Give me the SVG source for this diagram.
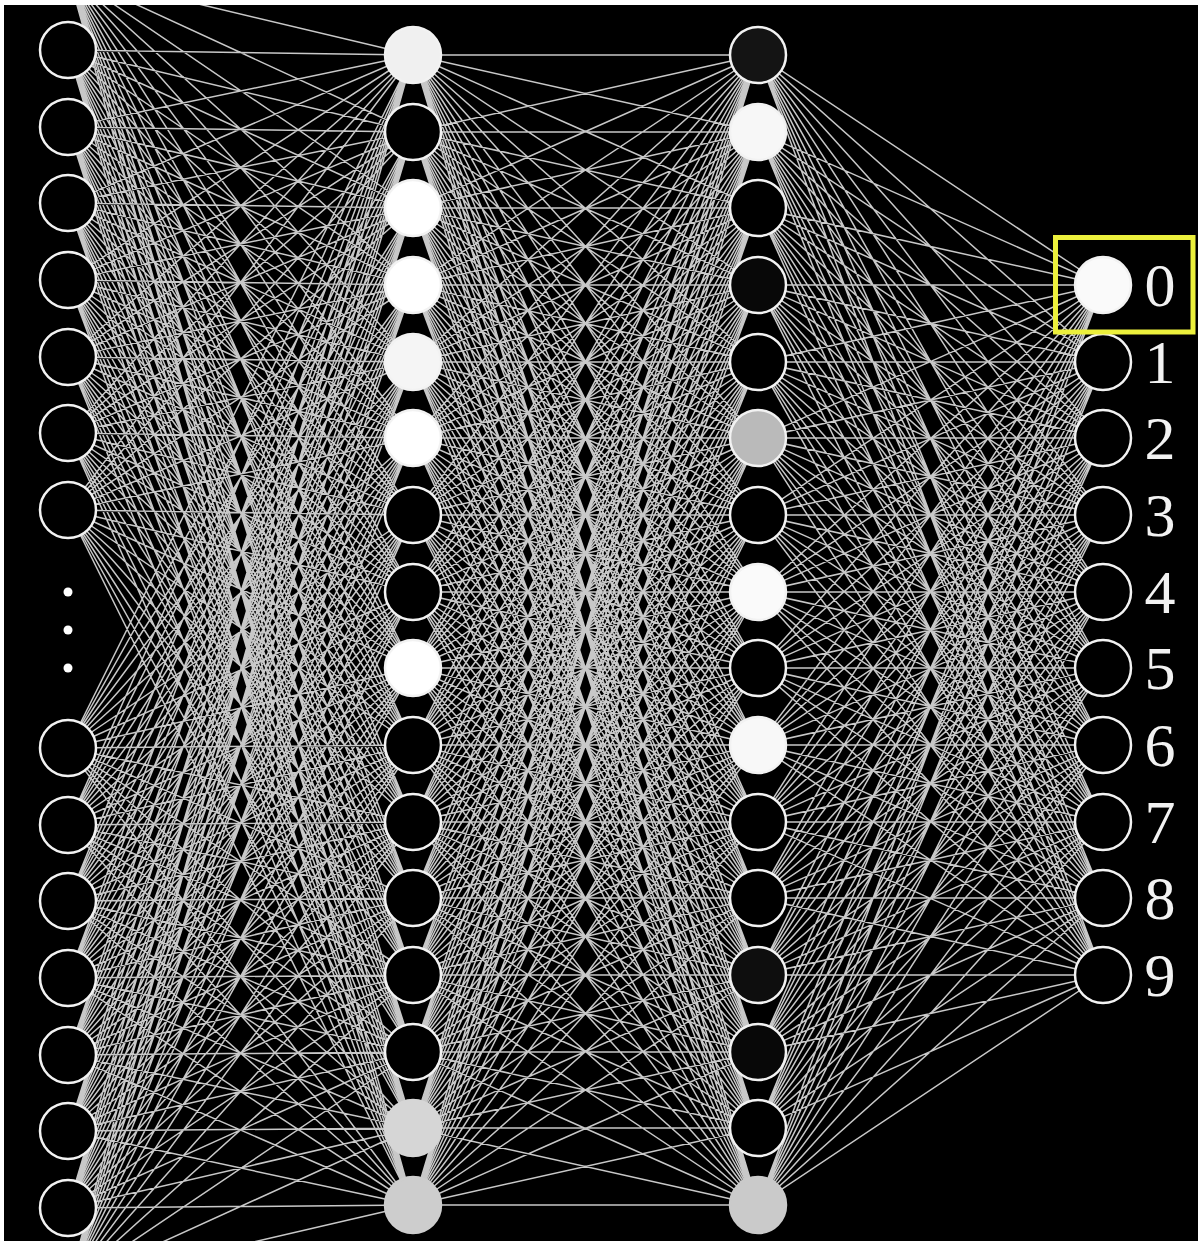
<svg xmlns="http://www.w3.org/2000/svg" width="1198" height="1245" viewBox="0 0 1198 1245">
<style>
.edge{fill:none;stroke:#c8c8c8;stroke-width:1.5;stroke-linejoin:round}
.n{stroke:#f2f2f2;stroke-width:2.5}
.lbl{font-family:"Liberation Serif","Times New Roman",serif;font-size:62px;fill:#f2f2f2;text-anchor:middle}
</style>
<defs>
<clipPath id="frame"><rect x="4" y="5" width="1194" height="1236"/></clipPath>
</defs>
<rect x="0" y="0" width="1198" height="1245" fill="#ffffff"/>
<rect x="4" y="5" width="1194" height="1236" fill="#000000"/>
<g id="connectors" clip-path="url(#frame)" class="edge">
<path id="edges-input-h1" d="
M68 -27 413 55 68 -27 413 132 68 -27 413 208 68 -27 413 285 68 -27 413 362 68 -27 413 438 68 -27 413 515 68 -27 413 592 68 -27 413 668 68 -27 413 745 68 -27 413 822 68 -27 413 898 68 -27 413 975 68 -27 413 1052 68 -27 413 1128 68 -27 413 1205
M68 50 413 55 68 50 413 132 68 50 413 208 68 50 413 285 68 50 413 362 68 50 413 438 68 50 413 515 68 50 413 592 68 50 413 668 68 50 413 745 68 50 413 822 68 50 413 898 68 50 413 975 68 50 413 1052 68 50 413 1128 68 50 413 1205
M68 127 413 55 68 127 413 132 68 127 413 208 68 127 413 285 68 127 413 362 68 127 413 438 68 127 413 515 68 127 413 592 68 127 413 668 68 127 413 745 68 127 413 822 68 127 413 898 68 127 413 975 68 127 413 1052 68 127 413 1128 68 127 413 1205
M68 203 413 55 68 203 413 132 68 203 413 208 68 203 413 285 68 203 413 362 68 203 413 438 68 203 413 515 68 203 413 592 68 203 413 668 68 203 413 745 68 203 413 822 68 203 413 898 68 203 413 975 68 203 413 1052 68 203 413 1128 68 203 413 1205
M68 280 413 55 68 280 413 132 68 280 413 208 68 280 413 285 68 280 413 362 68 280 413 438 68 280 413 515 68 280 413 592 68 280 413 668 68 280 413 745 68 280 413 822 68 280 413 898 68 280 413 975 68 280 413 1052 68 280 413 1128 68 280 413 1205
M68 357 413 55 68 357 413 132 68 357 413 208 68 357 413 285 68 357 413 362 68 357 413 438 68 357 413 515 68 357 413 592 68 357 413 668 68 357 413 745 68 357 413 822 68 357 413 898 68 357 413 975 68 357 413 1052 68 357 413 1128 68 357 413 1205
M68 433 413 55 68 433 413 132 68 433 413 208 68 433 413 285 68 433 413 362 68 433 413 438 68 433 413 515 68 433 413 592 68 433 413 668 68 433 413 745 68 433 413 822 68 433 413 898 68 433 413 975 68 433 413 1052 68 433 413 1128 68 433 413 1205
M68 510 413 55 68 510 413 132 68 510 413 208 68 510 413 285 68 510 413 362 68 510 413 438 68 510 413 515 68 510 413 592 68 510 413 668 68 510 413 745 68 510 413 822 68 510 413 898 68 510 413 975 68 510 413 1052 68 510 413 1128 68 510 413 1205
M68 748 413 55 68 748 413 132 68 748 413 208 68 748 413 285 68 748 413 362 68 748 413 438 68 748 413 515 68 748 413 592 68 748 413 668 68 748 413 745 68 748 413 822 68 748 413 898 68 748 413 975 68 748 413 1052 68 748 413 1128 68 748 413 1205
M68 825 413 55 68 825 413 132 68 825 413 208 68 825 413 285 68 825 413 362 68 825 413 438 68 825 413 515 68 825 413 592 68 825 413 668 68 825 413 745 68 825 413 822 68 825 413 898 68 825 413 975 68 825 413 1052 68 825 413 1128 68 825 413 1205
M68 901 413 55 68 901 413 132 68 901 413 208 68 901 413 285 68 901 413 362 68 901 413 438 68 901 413 515 68 901 413 592 68 901 413 668 68 901 413 745 68 901 413 822 68 901 413 898 68 901 413 975 68 901 413 1052 68 901 413 1128 68 901 413 1205
M68 978 413 55 68 978 413 132 68 978 413 208 68 978 413 285 68 978 413 362 68 978 413 438 68 978 413 515 68 978 413 592 68 978 413 668 68 978 413 745 68 978 413 822 68 978 413 898 68 978 413 975 68 978 413 1052 68 978 413 1128 68 978 413 1205
M68 1055 413 55 68 1055 413 132 68 1055 413 208 68 1055 413 285 68 1055 413 362 68 1055 413 438 68 1055 413 515 68 1055 413 592 68 1055 413 668 68 1055 413 745 68 1055 413 822 68 1055 413 898 68 1055 413 975 68 1055 413 1052 68 1055 413 1128 68 1055 413 1205
M68 1131 413 55 68 1131 413 132 68 1131 413 208 68 1131 413 285 68 1131 413 362 68 1131 413 438 68 1131 413 515 68 1131 413 592 68 1131 413 668 68 1131 413 745 68 1131 413 822 68 1131 413 898 68 1131 413 975 68 1131 413 1052 68 1131 413 1128 68 1131 413 1205
M68 1208 413 55 68 1208 413 132 68 1208 413 208 68 1208 413 285 68 1208 413 362 68 1208 413 438 68 1208 413 515 68 1208 413 592 68 1208 413 668 68 1208 413 745 68 1208 413 822 68 1208 413 898 68 1208 413 975 68 1208 413 1052 68 1208 413 1128 68 1208 413 1205
M68 1285 413 55 68 1285 413 132 68 1285 413 208 68 1285 413 285 68 1285 413 362 68 1285 413 438 68 1285 413 515 68 1285 413 592 68 1285 413 668 68 1285 413 745 68 1285 413 822 68 1285 413 898 68 1285 413 975 68 1285 413 1052 68 1285 413 1128 68 1285 413 1205"/>
<path id="edges-h1-h2" d="
M413 55 758 55 413 55 758 132 413 55 758 208 413 55 758 285 413 55 758 362 413 55 758 438 413 55 758 515 413 55 758 592 413 55 758 668 413 55 758 745 413 55 758 822 413 55 758 898 413 55 758 975 413 55 758 1052 413 55 758 1128 413 55 758 1205
M413 132 758 55 413 132 758 132 413 132 758 208 413 132 758 285 413 132 758 362 413 132 758 438 413 132 758 515 413 132 758 592 413 132 758 668 413 132 758 745 413 132 758 822 413 132 758 898 413 132 758 975 413 132 758 1052 413 132 758 1128 413 132 758 1205
M413 208 758 55 413 208 758 132 413 208 758 208 413 208 758 285 413 208 758 362 413 208 758 438 413 208 758 515 413 208 758 592 413 208 758 668 413 208 758 745 413 208 758 822 413 208 758 898 413 208 758 975 413 208 758 1052 413 208 758 1128 413 208 758 1205
M413 285 758 55 413 285 758 132 413 285 758 208 413 285 758 285 413 285 758 362 413 285 758 438 413 285 758 515 413 285 758 592 413 285 758 668 413 285 758 745 413 285 758 822 413 285 758 898 413 285 758 975 413 285 758 1052 413 285 758 1128 413 285 758 1205
M413 362 758 55 413 362 758 132 413 362 758 208 413 362 758 285 413 362 758 362 413 362 758 438 413 362 758 515 413 362 758 592 413 362 758 668 413 362 758 745 413 362 758 822 413 362 758 898 413 362 758 975 413 362 758 1052 413 362 758 1128 413 362 758 1205
M413 438 758 55 413 438 758 132 413 438 758 208 413 438 758 285 413 438 758 362 413 438 758 438 413 438 758 515 413 438 758 592 413 438 758 668 413 438 758 745 413 438 758 822 413 438 758 898 413 438 758 975 413 438 758 1052 413 438 758 1128 413 438 758 1205
M413 515 758 55 413 515 758 132 413 515 758 208 413 515 758 285 413 515 758 362 413 515 758 438 413 515 758 515 413 515 758 592 413 515 758 668 413 515 758 745 413 515 758 822 413 515 758 898 413 515 758 975 413 515 758 1052 413 515 758 1128 413 515 758 1205
M413 592 758 55 413 592 758 132 413 592 758 208 413 592 758 285 413 592 758 362 413 592 758 438 413 592 758 515 413 592 758 592 413 592 758 668 413 592 758 745 413 592 758 822 413 592 758 898 413 592 758 975 413 592 758 1052 413 592 758 1128 413 592 758 1205
M413 668 758 55 413 668 758 132 413 668 758 208 413 668 758 285 413 668 758 362 413 668 758 438 413 668 758 515 413 668 758 592 413 668 758 668 413 668 758 745 413 668 758 822 413 668 758 898 413 668 758 975 413 668 758 1052 413 668 758 1128 413 668 758 1205
M413 745 758 55 413 745 758 132 413 745 758 208 413 745 758 285 413 745 758 362 413 745 758 438 413 745 758 515 413 745 758 592 413 745 758 668 413 745 758 745 413 745 758 822 413 745 758 898 413 745 758 975 413 745 758 1052 413 745 758 1128 413 745 758 1205
M413 822 758 55 413 822 758 132 413 822 758 208 413 822 758 285 413 822 758 362 413 822 758 438 413 822 758 515 413 822 758 592 413 822 758 668 413 822 758 745 413 822 758 822 413 822 758 898 413 822 758 975 413 822 758 1052 413 822 758 1128 413 822 758 1205
M413 898 758 55 413 898 758 132 413 898 758 208 413 898 758 285 413 898 758 362 413 898 758 438 413 898 758 515 413 898 758 592 413 898 758 668 413 898 758 745 413 898 758 822 413 898 758 898 413 898 758 975 413 898 758 1052 413 898 758 1128 413 898 758 1205
M413 975 758 55 413 975 758 132 413 975 758 208 413 975 758 285 413 975 758 362 413 975 758 438 413 975 758 515 413 975 758 592 413 975 758 668 413 975 758 745 413 975 758 822 413 975 758 898 413 975 758 975 413 975 758 1052 413 975 758 1128 413 975 758 1205
M413 1052 758 55 413 1052 758 132 413 1052 758 208 413 1052 758 285 413 1052 758 362 413 1052 758 438 413 1052 758 515 413 1052 758 592 413 1052 758 668 413 1052 758 745 413 1052 758 822 413 1052 758 898 413 1052 758 975 413 1052 758 1052 413 1052 758 1128 413 1052 758 1205
M413 1128 758 55 413 1128 758 132 413 1128 758 208 413 1128 758 285 413 1128 758 362 413 1128 758 438 413 1128 758 515 413 1128 758 592 413 1128 758 668 413 1128 758 745 413 1128 758 822 413 1128 758 898 413 1128 758 975 413 1128 758 1052 413 1128 758 1128 413 1128 758 1205
M413 1205 758 55 413 1205 758 132 413 1205 758 208 413 1205 758 285 413 1205 758 362 413 1205 758 438 413 1205 758 515 413 1205 758 592 413 1205 758 668 413 1205 758 745 413 1205 758 822 413 1205 758 898 413 1205 758 975 413 1205 758 1052 413 1205 758 1128 413 1205 758 1205"/>
<path id="edges-h2-out" d="
M1103 285 758 55 1103 285 758 132 1103 285 758 208 1103 285 758 285 1103 285 758 362 1103 285 758 438 1103 285 758 515 1103 285 758 592 1103 285 758 668 1103 285 758 745 1103 285 758 822 1103 285 758 898 1103 285 758 975 1103 285 758 1052 1103 285 758 1128 1103 285 758 1205
M1103 362 758 55 1103 362 758 132 1103 362 758 208 1103 362 758 285 1103 362 758 362 1103 362 758 438 1103 362 758 515 1103 362 758 592 1103 362 758 668 1103 362 758 745 1103 362 758 822 1103 362 758 898 1103 362 758 975 1103 362 758 1052 1103 362 758 1128 1103 362 758 1205
M1103 438 758 55 1103 438 758 132 1103 438 758 208 1103 438 758 285 1103 438 758 362 1103 438 758 438 1103 438 758 515 1103 438 758 592 1103 438 758 668 1103 438 758 745 1103 438 758 822 1103 438 758 898 1103 438 758 975 1103 438 758 1052 1103 438 758 1128 1103 438 758 1205
M1103 515 758 55 1103 515 758 132 1103 515 758 208 1103 515 758 285 1103 515 758 362 1103 515 758 438 1103 515 758 515 1103 515 758 592 1103 515 758 668 1103 515 758 745 1103 515 758 822 1103 515 758 898 1103 515 758 975 1103 515 758 1052 1103 515 758 1128 1103 515 758 1205
M1103 592 758 55 1103 592 758 132 1103 592 758 208 1103 592 758 285 1103 592 758 362 1103 592 758 438 1103 592 758 515 1103 592 758 592 1103 592 758 668 1103 592 758 745 1103 592 758 822 1103 592 758 898 1103 592 758 975 1103 592 758 1052 1103 592 758 1128 1103 592 758 1205
M1103 668 758 55 1103 668 758 132 1103 668 758 208 1103 668 758 285 1103 668 758 362 1103 668 758 438 1103 668 758 515 1103 668 758 592 1103 668 758 668 1103 668 758 745 1103 668 758 822 1103 668 758 898 1103 668 758 975 1103 668 758 1052 1103 668 758 1128 1103 668 758 1205
M1103 745 758 55 1103 745 758 132 1103 745 758 208 1103 745 758 285 1103 745 758 362 1103 745 758 438 1103 745 758 515 1103 745 758 592 1103 745 758 668 1103 745 758 745 1103 745 758 822 1103 745 758 898 1103 745 758 975 1103 745 758 1052 1103 745 758 1128 1103 745 758 1205
M1103 822 758 55 1103 822 758 132 1103 822 758 208 1103 822 758 285 1103 822 758 362 1103 822 758 438 1103 822 758 515 1103 822 758 592 1103 822 758 668 1103 822 758 745 1103 822 758 822 1103 822 758 898 1103 822 758 975 1103 822 758 1052 1103 822 758 1128 1103 822 758 1205
M1103 898 758 55 1103 898 758 132 1103 898 758 208 1103 898 758 285 1103 898 758 362 1103 898 758 438 1103 898 758 515 1103 898 758 592 1103 898 758 668 1103 898 758 745 1103 898 758 822 1103 898 758 898 1103 898 758 975 1103 898 758 1052 1103 898 758 1128 1103 898 758 1205
M1103 975 758 55 1103 975 758 132 1103 975 758 208 1103 975 758 285 1103 975 758 362 1103 975 758 438 1103 975 758 515 1103 975 758 592 1103 975 758 668 1103 975 758 745 1103 975 758 822 1103 975 758 898 1103 975 758 975 1103 975 758 1052 1103 975 758 1128 1103 975 758 1205"/>
</g>
<g id="input-layer" class="n" fill="#000">
<g id="in-1"><circle cx="68" cy="50" r="28"/></g>
<g id="in-2"><circle cx="68" cy="127" r="28"/></g>
<g id="in-3"><circle cx="68" cy="203" r="28"/></g>
<g id="in-4"><circle cx="68" cy="280" r="28"/></g>
<g id="in-5"><circle cx="68" cy="357" r="28"/></g>
<g id="in-6"><circle cx="68" cy="433" r="28"/></g>
<g id="in-7"><circle cx="68" cy="510" r="28"/></g>
<g id="in-8"><circle cx="68" cy="748" r="28"/></g>
<g id="in-9"><circle cx="68" cy="825" r="28"/></g>
<g id="in-10"><circle cx="68" cy="901" r="28"/></g>
<g id="in-11"><circle cx="68" cy="978" r="28"/></g>
<g id="in-12"><circle cx="68" cy="1055" r="28"/></g>
<g id="in-13"><circle cx="68" cy="1131" r="28"/></g>
<g id="in-14"><circle cx="68" cy="1208" r="28"/></g>
</g>
<g id="input-ellipsis" fill="#ffffff">
<circle cx="68" cy="592" r="4.5"/>
<circle cx="68" cy="630" r="4.5"/>
<circle cx="68" cy="668" r="4.5"/>
</g>
<g id="hidden-layer-1" class="n">
<g id="h1-1"><circle cx="413" cy="55" r="28" fill="#f0f0f0"/></g>
<g id="h1-2"><circle cx="413" cy="132" r="28" fill="#000"/></g>
<g id="h1-3"><circle cx="413" cy="208" r="28" fill="#ffffff"/></g>
<g id="h1-4"><circle cx="413" cy="285" r="28" fill="#ffffff"/></g>
<g id="h1-5"><circle cx="413" cy="362" r="28" fill="#f5f5f5"/></g>
<g id="h1-6"><circle cx="413" cy="438" r="28" fill="#ffffff"/></g>
<g id="h1-7"><circle cx="413" cy="515" r="28" fill="#000"/></g>
<g id="h1-8"><circle cx="413" cy="592" r="28" fill="#000"/></g>
<g id="h1-9"><circle cx="413" cy="668" r="28" fill="#ffffff"/></g>
<g id="h1-10"><circle cx="413" cy="745" r="28" fill="#000"/></g>
<g id="h1-11"><circle cx="413" cy="822" r="28" fill="#000"/></g>
<g id="h1-12"><circle cx="413" cy="898" r="28" fill="#000"/></g>
<g id="h1-13"><circle cx="413" cy="975" r="28" fill="#000"/></g>
<g id="h1-14"><circle cx="413" cy="1052" r="28" fill="#000"/></g>
<g id="h1-15"><circle cx="413" cy="1128" r="28" fill="#d6d6d6" stroke="#d6d6d6"/></g>
<g id="h1-16"><circle cx="413" cy="1205" r="28" fill="#cdcdcd" stroke="#cdcdcd"/></g>
</g>
<g id="hidden-layer-2" class="n">
<g id="h2-1"><circle cx="758" cy="55" r="28" fill="#141414"/></g>
<g id="h2-2"><circle cx="758" cy="132" r="28" fill="#f7f7f7"/></g>
<g id="h2-3"><circle cx="758" cy="208" r="28" fill="#000"/></g>
<g id="h2-4"><circle cx="758" cy="285" r="28" fill="#080808"/></g>
<g id="h2-5"><circle cx="758" cy="362" r="28" fill="#000"/></g>
<g id="h2-6"><circle cx="758" cy="438" r="28" fill="#bababa"/></g>
<g id="h2-7"><circle cx="758" cy="515" r="28" fill="#000"/></g>
<g id="h2-8"><circle cx="758" cy="592" r="28" fill="#fafafa"/></g>
<g id="h2-9"><circle cx="758" cy="668" r="28" fill="#000"/></g>
<g id="h2-10"><circle cx="758" cy="745" r="28" fill="#f8f8f8"/></g>
<g id="h2-11"><circle cx="758" cy="822" r="28" fill="#000"/></g>
<g id="h2-12"><circle cx="758" cy="898" r="28" fill="#000"/></g>
<g id="h2-13"><circle cx="758" cy="975" r="28" fill="#0e0e0e"/></g>
<g id="h2-14"><circle cx="758" cy="1052" r="28" fill="#080808"/></g>
<g id="h2-15"><circle cx="758" cy="1128" r="28" fill="#000"/></g>
<g id="h2-16"><circle cx="758" cy="1205" r="28" fill="#cacaca" stroke="#cacaca"/></g>
</g>
<g id="output-layer">
<g id="out-0"><circle class="n" cx="1103" cy="285" r="28" fill="#fafafa"/><text class="lbl" x="1160" y="306">0</text></g>
<g id="out-1"><circle class="n" cx="1103" cy="362" r="28" fill="#000"/><text class="lbl" x="1160" y="383">1</text></g>
<g id="out-2"><circle class="n" cx="1103" cy="438" r="28" fill="#000"/><text class="lbl" x="1160" y="459">2</text></g>
<g id="out-3"><circle class="n" cx="1103" cy="515" r="28" fill="#000"/><text class="lbl" x="1160" y="536">3</text></g>
<g id="out-4"><circle class="n" cx="1103" cy="592" r="28" fill="#000"/><text class="lbl" x="1160" y="613">4</text></g>
<g id="out-5"><circle class="n" cx="1103" cy="668" r="28" fill="#000"/><text class="lbl" x="1160" y="689">5</text></g>
<g id="out-6"><circle class="n" cx="1103" cy="745" r="28" fill="#000"/><text class="lbl" x="1160" y="766">6</text></g>
<g id="out-7"><circle class="n" cx="1103" cy="822" r="28" fill="#000"/><text class="lbl" x="1160" y="843">7</text></g>
<g id="out-8"><circle class="n" cx="1103" cy="898" r="28" fill="#000"/><text class="lbl" x="1160" y="919">8</text></g>
<g id="out-9"><circle class="n" cx="1103" cy="975" r="28" fill="#000"/><text class="lbl" x="1160" y="996">9</text></g>
</g>
<g id="highlight-box"><rect x="1055.5" y="237.5" width="137.5" height="94.5" fill="none" stroke="#ecf03c" stroke-width="5"/></g>
</svg>
